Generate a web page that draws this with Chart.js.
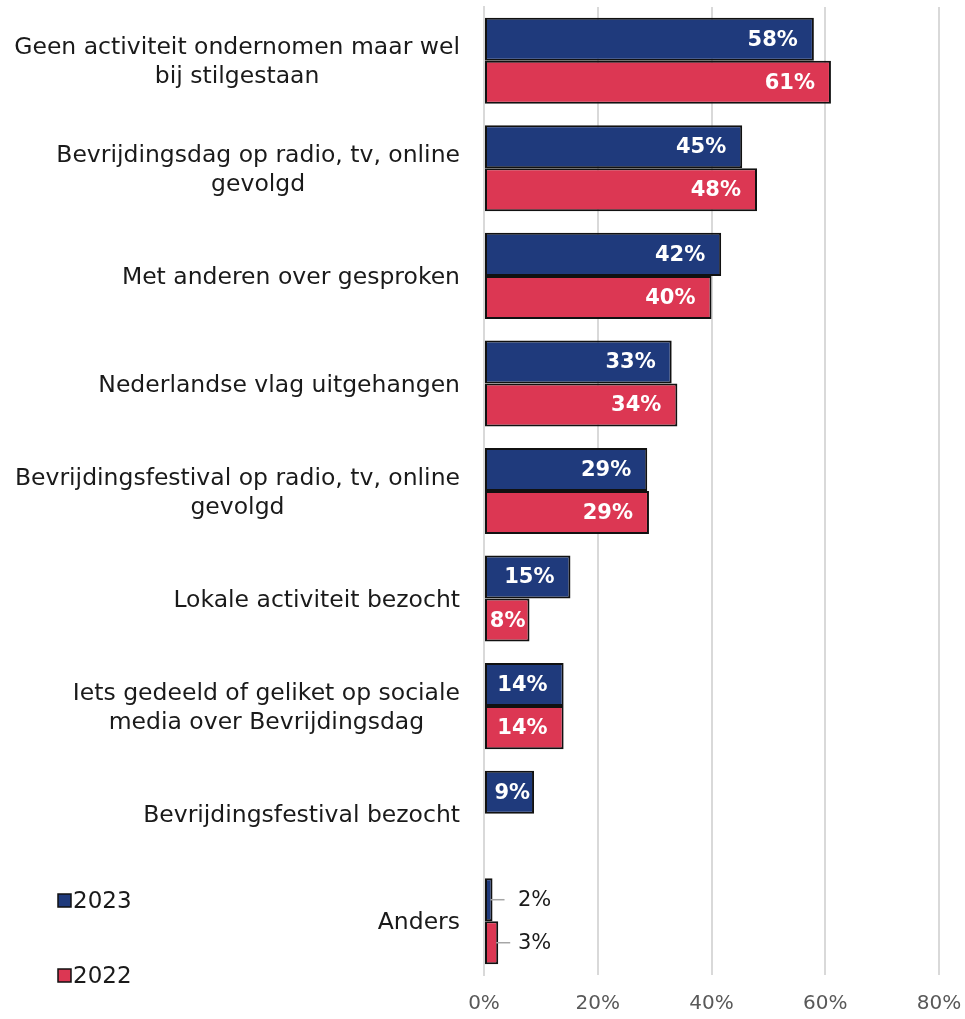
<!DOCTYPE html>
<html>
<head>
<meta charset="utf-8">
<script src="https://cdn.jsdelivr.net/npm/chart.js@4/dist/chart.umd.min.js"></script>
<style>
  html, body { margin: 0; padding: 0; background: #fff; }
  #wrap { width: 965px; height: 1019px; position: relative; }
</style>
</head>
<body>
<div id="wrap"><canvas id="grafiek"></canvas></div>
<script>
// Categorieën (meerregelige labels)
const categorieen = [
    ['Geen activiteit ondernomen maar wel', 'bij stilgestaan'],
    ['Bevrijdingsdag op radio, tv, online', 'gevolgd'],
    ['Met anderen over gesproken'],
    ['Nederlandse vlag uitgehangen'],
    ['Bevrijdingsfestival op radio, tv, online', 'gevolgd'],
    ['Lokale activiteit bezocht'],
    ['Iets gedeeld of geliket op sociale', 'media over Bevrijdingsdag'],
    ['Bevrijdingsfestival bezocht'],
    ['Anders']
];
const waarden2023 = [58, 45.4, 41.7, 33, 28.7, 15.2, 14, 8.8, 1.5];
const waarden2022 = [61, 48, 40, 34, 29, 8, 14, null, 2.5];
const tickLabels = ['0%', '20%', '40%', '60%', '80%'];

const blauw = '#1f3a7c';
const rood = '#dc3753';
const lettertype = "'DejaVu Sans', sans-serif";

// Categorielabels: blok rechts uitgelijnd, regels gecentreerd
const categorieLabels = {
    id: 'categorieLabels',
    afterDraw(chart) {
        const ctx = chart.ctx;
        const schaal = chart.scales.y;
        const rechts = 460;
        const regelHoogte = 29;
        ctx.save();
        ctx.font = '23.5px ' + lettertype;
        ctx.fillStyle = '#1a1a1a';
        ctx.textAlign = 'center';
        ctx.textBaseline = 'middle';
        chart.data.labels.forEach((regels, i) => {
            const y = schaal.getPixelForTick(i) + 2;
            const breedte = Math.max(...regels.map(r => ctx.measureText(r).width));
            const midden = rechts - breedte / 2;
            const start = y - (regels.length - 1) * regelHoogte / 2;
            regels.forEach((r, k) => ctx.fillText(r, midden, start + k * regelHoogte));
        });
        ctx.restore();
    }
};

// Waardelabels op de balken
const waardeLabels = {
    id: 'waardeLabels',
    afterDatasetsDraw(chart) {
        const ctx = chart.ctx;
        ctx.save();
        chart.data.datasets.forEach((ds, i) => {
            const meta = chart.getDatasetMeta(i);
            meta.data.forEach((el, j) => {
                const v = ds.data[j];
                if (v === null || v === undefined) return;
                const tekst = Math.round(v) + '%';
                if (v >= 5) {
                    ctx.font = 'bold 21px ' + lettertype;
                    ctx.fillStyle = '#ffffff';
                    ctx.textAlign = 'right';
                    ctx.textBaseline = 'middle';
                    const w = ctx.measureText(tekst).width;
                    // past het label niet met ruimte, schuif het naar het balkeinde
                    const x = (el.x - 16 - w < el.base + 3) ? el.x - 4 : el.x - 16;
                    ctx.fillText(tekst, x, el.y + 1);
                } else {
                    ctx.strokeStyle = '#a6a6a6';
                    ctx.lineWidth = 1.5;
                    ctx.beginPath();
                    ctx.moveTo(el.x - 2, el.y);
                    ctx.lineTo(el.x + 12, el.y);
                    ctx.stroke();
                    ctx.font = '21px ' + lettertype;
                    ctx.fillStyle = '#1a1a1a';
                    ctx.textAlign = 'left';
                    ctx.textBaseline = 'middle';
                    ctx.fillText(tekst, 518, el.y + 1);
                }
            });
        });
        ctx.restore();
    }
};

// Legenda linksonder, verticaal
const legendaLinks = {
    id: 'legendaLinks',
    afterDraw(chart) {
        const ctx = chart.ctx;
        const posities = [901, 976];
        ctx.save();
        chart.data.datasets.forEach((ds, i) => {
            const y = posities[i];
            ctx.fillStyle = ds.backgroundColor;
            ctx.fillRect(58, y - 7, 13, 13);
            ctx.strokeStyle = '#111111';
            ctx.lineWidth = 1.5;
            ctx.strokeRect(58, y - 7, 13, 13);
            ctx.font = '23px ' + lettertype;
            ctx.fillStyle = '#1a1a1a';
            ctx.textAlign = 'left';
            ctx.textBaseline = 'middle';
            ctx.fillText(ds.label, 73, y + 1);
        });
        ctx.restore();
    }
};

new Chart(document.getElementById('grafiek'), {
    type: 'bar',
    data: {
        labels: categorieen,
        datasets: [
            {
                label: '2023',
                data: waarden2023,
                backgroundColor: blauw,
                borderColor: '#111111',
                borderWidth: 2,
                borderSkipped: false
            },
            {
                label: '2022',
                data: waarden2022,
                backgroundColor: rood,
                borderColor: '#111111',
                borderWidth: 2,
                borderSkipped: false
            }
        ]
    },
    options: {
        indexAxis: 'y',
        responsive: true,
        maintainAspectRatio: false,
        animation: false,
        layout: { padding: { top: 7, right: 26, bottom: 0, left: 0 } },
        datasets: { bar: { categoryPercentage: 0.8, barPercentage: 1.0 } },
        plugins: {
            legend: { display: false },
            tooltip: { enabled: false }
        },
        scales: {
            x: {
                min: 0,
                max: 80,
                ticks: {
                    stepSize: 20,
                    padding: 17,
                    color: '#595959',
                    font: { family: lettertype, size: 20 },
                    callback: (v, i) => tickLabels[i]
                },
                grid: { color: '#d9d9d9', lineWidth: 2, drawTicks: false },
                border: { display: false },
                afterFit(scale) {
                    scale.height = 44;
                    scale.paddingLeft = 0;
                    scale.paddingRight = 0;
                }
            },
            y: {
                ticks: { display: false },
                grid: { display: false, drawTicks: false },
                border: { display: true, color: '#d9d9d9', width: 2 },
                afterFit(scale) {
                    scale.width = 484;
                    scale.paddingTop = 0;
                    scale.paddingBottom = 0;
                }
            }
        }
    },
    plugins: [waardeLabels, categorieLabels, legendaLinks]
});
</script>
</body>
</html>
